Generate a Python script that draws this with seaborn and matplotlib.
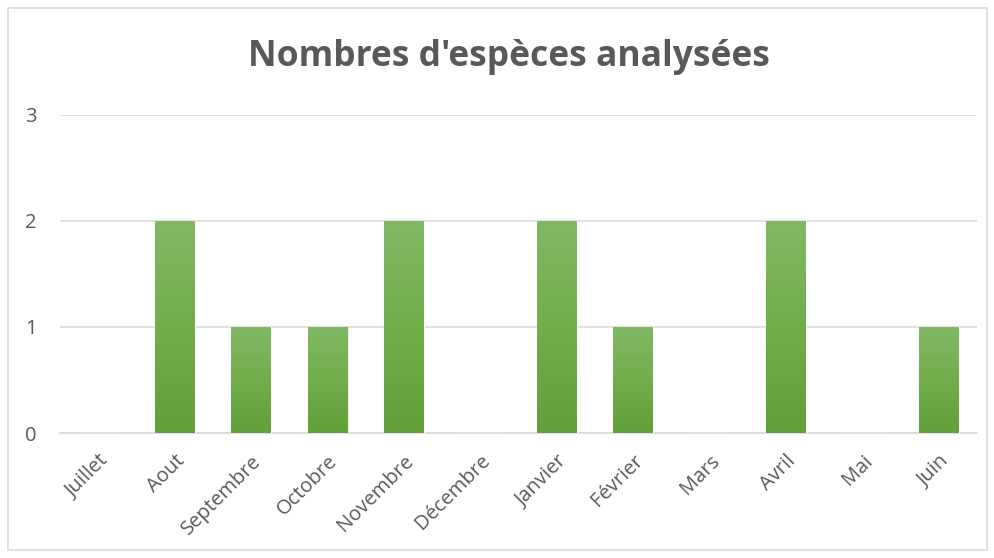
import numpy as np
import pandas as pd
import matplotlib.pyplot as plt
import matplotlib.colors as mcolors
from matplotlib.patches import Rectangle
import seaborn as sns

mois = ['Juillet', 'Aout', 'Septembre', 'Octobre', 'Novembre', 'Décembre',
        'Janvier', 'Février', 'Mars', 'Avril', 'Mai', 'Juin']
especes = [0, 2, 1, 1, 2, 0, 2, 1, 0, 2, 0, 1]
y_ticks = [0, 1, 2, 3]

sns.set_style('white')
plt.rcParams['font.family'] = ['Open Sans', 'DejaVu Sans']
text_col = '#595959'
grid_col = '#d9d9d9'

df = pd.DataFrame({'mois': mois, 'especes': especes})

fig = plt.figure(figsize=(9.95, 5.58), dpi=100)
ax = fig.add_axes([0.0603, 0.224, 0.9217, 0.570])

sns.barplot(data=df, x='mois', y='especes', color='#70ad47', width=0.52,
            ax=ax, zorder=3)

# gradient fill: lighter at top, darker at bottom
cmap = mcolors.LinearSegmentedColormap.from_list('g', ['#62a03a', '#72ae4a', '#82b866'])
grad = np.linspace(0, 1, 256).reshape(-1, 1)
for p in ax.patches:
    h = p.get_height()
    if h <= 0:
        continue
    x0 = p.get_x()
    w = p.get_width()
    # soft shadow
    sh = Rectangle((x0 + 0.015, 0), w, h, facecolor='#bfbfbf', alpha=0.35,
                   edgecolor='none', zorder=2.5)
    ax.add_patch(sh)
    im = ax.imshow(grad, extent=(x0, x0 + w, 0, h), origin='lower', cmap=cmap,
                   aspect='auto', zorder=3.5)
    im.set_clip_path(p)

ax.set_xlim(-0.5, len(mois) - 0.5)
ax.set_ylim(0, 3)
ax.set_yticks(y_ticks)
ax.yaxis.grid(True, color=grid_col, linewidth=1.1, zorder=0)
ax.set_axisbelow(True)
for s in ['left', 'right', 'top']:
    ax.spines[s].set_visible(False)
ax.spines['bottom'].set_color(grid_col)
ax.spines['bottom'].set_linewidth(1.1)

ax.set_xlabel('')
ax.set_ylabel('')
ax.tick_params(axis='both', length=0, colors=text_col, labelsize=14.5)
ax.tick_params(axis='y', pad=17)
ax.set_xticks(range(len(mois)))
ax.set_xticklabels(mois, rotation=45, ha='right', rotation_mode='anchor')
ax.tick_params(axis='x', pad=13)

fig.text(0.511, 0.897, "Nombres d'espèces analysées", ha='center', va='center',
         fontsize=25.5, fontweight='bold', color=text_col)

border = Rectangle((0.008, 0.014), 0.984, 0.972, transform=fig.transFigure,
                   fill=False, edgecolor=grid_col, linewidth=1.2)
fig.patches.append(border)

fig.savefig('out.png', dpi=100)
